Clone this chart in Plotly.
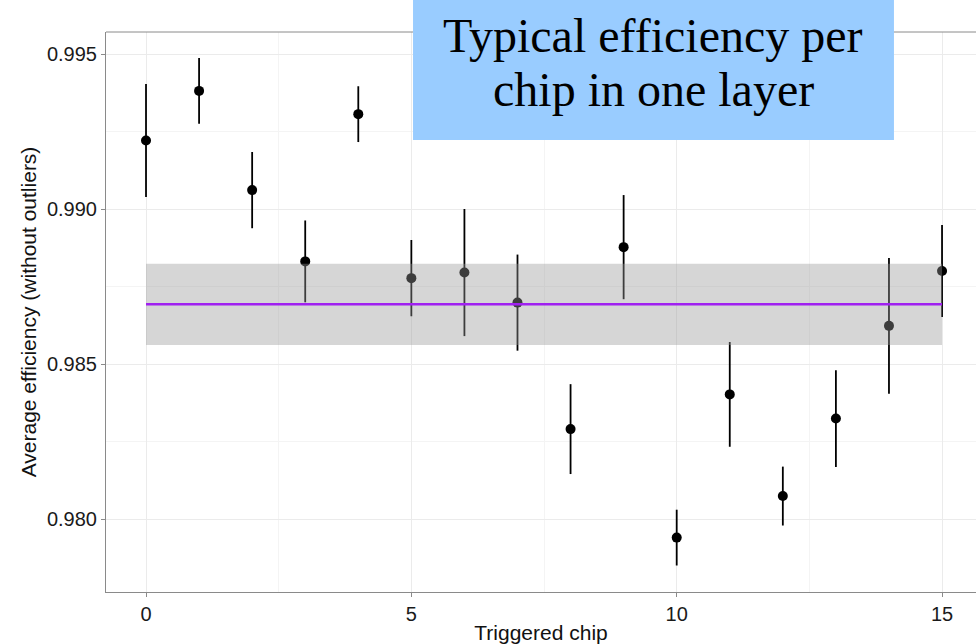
import plotly.graph_objects as go

chips = list(range(16))
efficiency = [0.99221, 0.99381, 0.99061, 0.98831, 0.99306, 0.98777, 0.98795, 0.98698,
              0.98290, 0.98877, 0.97940, 0.98402, 0.98074, 0.98324, 0.98623, 0.98800]
err = [0.00182, 0.00106, 0.00123, 0.00132, 0.00090, 0.00123, 0.00205, 0.00155,
       0.00145, 0.00168, 0.00090, 0.00169, 0.00095, 0.00156, 0.00219, 0.00148]
mean_eff = 0.98693
band_lo = 0.98561
band_hi = 0.98823
x_ticks = [0, 5, 10, 15]
y_ticks = [0.980, 0.985, 0.990, 0.995]
title_lines = ["Typical efficiency per", "chip in one layer"]

fig = go.Figure()
fig.add_trace(go.Scatter(
    x=chips, y=efficiency, mode="markers",
    marker=dict(color="black", size=10),
    error_y=dict(type="data", array=err, visible=True, width=0, thickness=1.8, color="black"),
    showlegend=False, hoverinfo="x+y"))
fig.add_trace(go.Scatter(
    x=[chips[0], chips[-1], chips[-1], chips[0], chips[0]],
    y=[band_lo, band_lo, band_hi, band_hi, band_lo],
    mode="lines", fill="toself", fillcolor="rgba(153,153,153,0.4)",
    line=dict(width=0), showlegend=False, hoverinfo="skip"))
fig.add_trace(go.Scatter(
    x=[chips[0], chips[-1]], y=[mean_eff, mean_eff], mode="lines",
    line=dict(color="#a020f0", width=2.5), showlegend=False))

axis_font = dict(family="Liberation Sans, Arial, sans-serif", size=20, color="#1a1a1a")
title_font = dict(family="Liberation Sans, Arial, sans-serif", size=21, color="#111")
fig.update_xaxes(
    range=[-0.754, 15.64], tickvals=x_ticks, ticktext=[str(v) for v in x_ticks],
    showgrid=True, gridcolor="#ebebeb", gridwidth=1,
    minor=dict(dtick=2.5, tick0=0, showgrid=True, gridcolor="#f4f4f4", gridwidth=1, ticks=""),
    showline=True, linecolor="#8a8a8a", linewidth=1,
    ticks="outside", ticklen=4, tickcolor="#8a8a8a", tickfont=axis_font, zeroline=False,
    title=dict(text="Triggered chip", font=title_font, standoff=5))
fig.update_yaxes(
    range=[0.977645, 0.995710], tickvals=y_ticks, ticktext=[f"{v:.3f}" for v in y_ticks],
    showgrid=True, gridcolor="#ebebeb", gridwidth=1,
    minor=dict(dtick=0.0025, tick0=0.98, showgrid=True, gridcolor="#f4f4f4", gridwidth=1, ticks=""),
    showline=True, linecolor="#8a8a8a", linewidth=1,
    ticks="outside", ticklen=4, tickcolor="#8a8a8a", tickfont=axis_font, zeroline=False,
    title=dict(text="Average efficiency (without outliers)", font=title_font, standoff=4))

fig.update_layout(
    width=976, height=644,
    margin=dict(l=106, r=0, t=32, b=52),
    plot_bgcolor="white", paper_bgcolor="white",
    shapes=[
        dict(type="line", xref="paper", yref="paper", x0=0, x1=1, y0=1, y1=1,
             line=dict(color="#8a8a8a", width=1), layer="above"),
        dict(type="rect", xref="paper", yref="paper", x0=0.3529, x1=0.9057, y0=0.8071, y1=1.0571,
             fillcolor="#99ccff", line=dict(width=0), layer="above"),
    ],
    annotations=[
        dict(text=title_lines[0], xref="paper", yref="paper", x=0.629, y=0.993,
             xanchor="center", yanchor="middle", showarrow=False,
             font=dict(family="Liberation Serif, Times New Roman, serif", size=48, color="black")),
        dict(text=title_lines[1], xref="paper", yref="paper", x=0.629, y=0.898,
             xanchor="center", yanchor="middle", showarrow=False,
             font=dict(family="Liberation Serif, Times New Roman, serif", size=48, color="black")),
    ],
)

fig.write_html("out.html")
